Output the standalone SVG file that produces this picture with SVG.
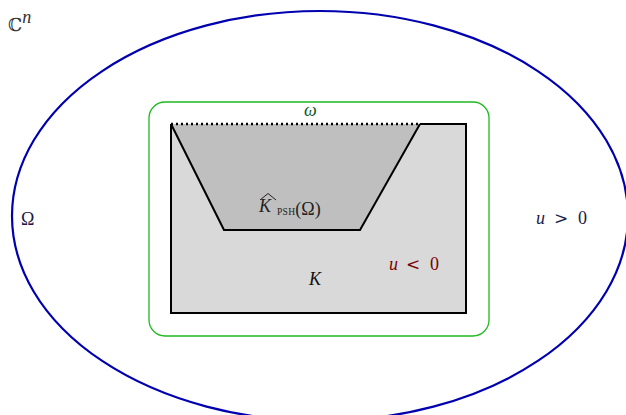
<svg xmlns="http://www.w3.org/2000/svg" width="626" height="415" viewBox="0 0 626 415">
<style>
.m{font-family:"Liberation Serif","DejaVu Serif",serif;font-style:italic;font-size:18px}
.r{font-family:"Liberation Serif","DejaVu Serif",serif;font-size:18px}
.rel{font-family:"DejaVu Serif",serif;font-style:normal;font-size:17px}
</style>
<rect width="626" height="415" fill="#fff"/>
<g id="C">
<ellipse cx="320" cy="216" rx="308" ry="205" fill="none" stroke="#0000b0" stroke-width="2.2"/>
<text x="8" y="31" class="r" fill="#333">ℂ<tspan class="m" font-size="13" dy="-8">n</tspan></text>
<text x="21" y="225" class="r" fill="#1a1a4a">Ω</text>
<text x="536" y="224" class="m" fill="#1a1a4a">u<tspan class="rel" x="554">&gt;</tspan><tspan font-style="normal" x="578">0</tspan></text>
</g>
<g id="omega">
<rect x="149" y="102" width="340" height="234" rx="16" fill="none" stroke="#1fb81f" stroke-width="1.3"/>
<text x="304" y="116" class="m" font-size="17" fill="#0a5a2a">ω</text>
</g>
<g id="K">
<rect x="171" y="124" width="295" height="189" fill="#d9d9d9"/>
<path d="M420,124 H466 V313 H171 V124" fill="none" stroke="#000" stroke-width="2"/>
<text x="309" y="285" class="m" fill="#111">K</text>
<text x="389" y="270" class="m" fill="#7a0000">u<tspan class="rel" x="406">&lt;</tspan><tspan font-style="normal" x="430">0</tspan></text>
</g>
<g id="hull">
<polygon points="171,124 224,230 360,230 420,124" fill="#bfbfbf" stroke="none"/>
<polyline points="171,124 224,230 360,230 420,124" fill="none" stroke="#000" stroke-width="2"/>
<line x1="171" y1="124" x2="420" y2="124" stroke="#000" stroke-width="2.4" stroke-dasharray="2,3"/>
<text x="259" y="212" class="m" fill="#222">K</text>
<path d="M260,200 L268,193.5 L276,200" fill="none" stroke="#222" stroke-width="1"/>
<text x="277" y="215" class="r" font-size="12" fill="#222"><tspan font-size="9.5" letter-spacing="0.3">PSH</tspan>(Ω)</text>
</g>
</svg>
